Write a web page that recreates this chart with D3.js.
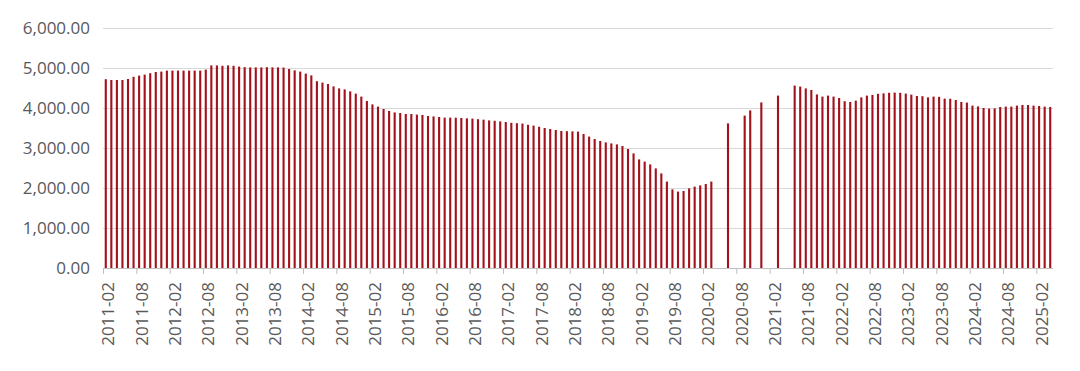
<!DOCTYPE html>
<html>
<head>
<meta charset="utf-8">
<script src="https://cdn.jsdelivr.net/npm/d3@7"></script>
<style>
  body { margin: 0; background: #fff; }
  text { font-family: "Open Sans", sans-serif; }
</style>
</head>
<body>
<script>
// Data: monthly values, 2011-02 .. 2025-04 (null = no value that month)
var firstMonth = "2011-02";
var lastMonth = "2025-04";
var yTicks = [0, 1000, 2000, 3000, 4000, 5000, 6000];
var labelEvery = 6;

var values = [
  4720, 4700, 4700, 4700, 4725, 4780, 4810, 4835, 4870, 4900, 4910, 4935,
  4935, 4935, 4935, 4935, 4935, 4935, 4960, 5065, 5065, 5055, 5065, 5055,
  5035, 5020, 5015, 5015, 5015, 5020, 5015, 5015, 5010, 4975, 4940, 4910,
  4860, 4815, 4670, 4635, 4600, 4540, 4490, 4465, 4415, 4360, 4285, 4175,
  4090, 4035, 3975, 3925, 3890, 3875, 3850, 3850, 3835, 3825, 3800, 3790,
  3775, 3760, 3760, 3758, 3750, 3742, 3735, 3720, 3708, 3690, 3680, 3665,
  3650, 3630, 3620, 3610, 3580, 3560, 3530, 3500, 3475, 3450, 3425, 3420,
  3415, 3410, 3350, 3285, 3225, 3175, 3140, 3115, 3090, 3050, 2975, 2865,
  2715, 2660, 2590, 2490, 2365, 2160, 1965, 1910, 1925, 1990, 2035, 2065,
  2100, 2160, null, null, 3615, null, null, 3810, 3940, null, 4140, null,
  null, 4310, null, null, 4560, 4535, 4490, 4450, 4340, 4285, 4310, 4285,
  4250, 4170, 4150, 4185, 4265, 4310, 4325, 4355, 4365, 4380, 4385, 4380,
  4360, 4335, 4300, 4295, 4265, 4285, 4280, 4235, 4230, 4200, 4150, 4135,
  4060, 4040, 4000, 3985, 3990, 4025, 4035, 4035, 4060, 4075, 4075, 4060,
  4050, 4035, 4025
];

var parseMonth = d3.timeParse("%Y-%m");
var fmtMonth = d3.timeFormat("%Y-%m");
var months = d3.timeMonth.range(parseMonth(firstMonth), d3.timeMonth.offset(parseMonth(lastMonth), 1)).map(fmtMonth);

var data = months.map(function(m, i) { return { month: m, value: values[i] }; });

// Chart setup
var svgWidth = 1080;
var svgHeight = 371;
var margin = { top: 28, right: 27, bottom: 103, left: 103 };
var width = svgWidth - margin.left - margin.right;
var height = svgHeight - margin.top - margin.bottom;

var svg = d3.select("body").append("svg")
  .attr("width", svgWidth)
  .attr("height", svgHeight);

var chartGroup = svg.append("g")
  .attr("transform", `translate(${margin.left}, ${margin.top})`);

var xScale = d3.scaleBand()
  .domain(months)
  .range([0, width])
  .paddingInner(0.62)
  .paddingOuter(0.31);

var yScale = d3.scaleLinear()
  .domain([0, 6000])
  .range([height, 0]);

// gridlines
chartGroup.append("g")
  .selectAll("line")
  .data(yTicks.slice(1))
  .enter()
  .append("line")
  .attr("x1", 0)
  .attr("x2", width)
  .attr("y1", d => yScale(d) + 0.5)
  .attr("y2", d => yScale(d) + 0.5)
  .attr("stroke", "#d9d9d9")
  .attr("stroke-width", 1);

// y labels
var leftAxis = d3.axisLeft(yScale)
  .tickValues(yTicks)
  .tickFormat(d3.format(",.2f"))
  .tickSize(0)
  .tickPadding(13);

chartGroup.append("g")
  .call(leftAxis)
  .call(g => g.select(".domain").remove())
  .selectAll("text")
  .attr("font-family", "Open Sans, sans-serif")
  .attr("font-size", "17px")
  .attr("fill", "#595959");

// bars
chartGroup.selectAll("rect.bar")
  .data(data.filter(d => d.value !== null))
  .enter()
  .append("rect")
  .attr("class", "bar")
  .attr("x", d => xScale(d.month))
  .attr("width", xScale.bandwidth())
  .attr("y", d => yScale(d.value))
  .attr("height", d => height - yScale(d.value))
  .attr("fill", "#a3121c");

// x axis: ticks at category boundaries, labels rotated
var step = xScale.step();
var labelMonths = months.filter((m, i) => i % labelEvery === 0);

var xAxis = chartGroup.append("g")
  .attr("transform", `translate(0, ${height})`);

xAxis.append("line")
  .attr("x1", 0)
  .attr("x2", width)
  .attr("y1", 0.5)
  .attr("y2", 0.5)
  .attr("stroke", "#bfbfbf");

xAxis.selectAll("line.tick")
  .data(labelMonths)
  .enter()
  .append("line")
  .attr("class", "tick")
  .attr("x1", d => xScale(d) - xScale.paddingOuter() * step + 0.5)
  .attr("x2", d => xScale(d) - xScale.paddingOuter() * step + 0.5)
  .attr("y1", 0)
  .attr("y2", 6)
  .attr("stroke", "#bfbfbf");

xAxis.selectAll("text")
  .data(labelMonths)
  .enter()
  .append("text")
  .attr("transform", d => `translate(${xScale(d) - xScale.paddingOuter() * step + 5.5}, 14) rotate(-90)`)
  .attr("text-anchor", "end")
  .attr("dy", "0.35em")
  .attr("font-size", "17px")
  .attr("fill", "#595959")
  .text(d => d);
</script>
</body>
</html>
